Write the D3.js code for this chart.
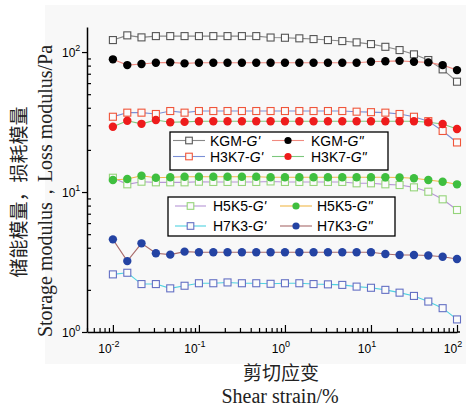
<!DOCTYPE html>
<html>
<head>
<meta charset="utf-8">
<script src="https://cdn.jsdelivr.net/npm/d3@7"></script>
<style>
  body { margin: 0; background: #fff; }
  svg { display: block; }
</style>
</head>
<body>
<script>
(function (d3) {
  'use strict';

// shear strain (%), 6 points per decade
const strain = [0.01, 0.0147, 0.0215, 0.0316, 0.0464, 0.0681, 0.1, 0.147, 0.215, 0.316, 0.464, 0.681,
  1, 1.47, 2.15, 3.16, 4.64, 6.81, 10, 14.7, 21.5, 31.6, 46.4, 68.1, 100];

const kgmGp = [121.8, 131.6, 127.3, 130, 130, 130, 130, 130, 130, 130, 130, 127, 126.5, 125.3, 123.8,
  121.8, 119.8, 117.3, 114, 109, 103.3, 96.3, 87.7, 75.2, 61.4];
const kgmGpp = [88.7, 80.7, 82.1, 83.9, 84.4, 83, 83.9, 83.9, 83.9, 83.9, 83.9, 83.9, 83.9, 83.9, 83.9,
  83.9, 83.9, 83.9, 85.3, 86, 86.5, 85.3, 84.4, 80.7, 74.3];
const h3k7Gp = [34.5, 36.9, 36.9, 36.1, 37.9, 36.9, 37.9, 37.9, 37.9, 37.9, 37.9, 37.9, 37.9, 37.9, 37.9,
  37.9, 37.9, 37.5, 37.2, 36.9, 36.1, 34.5, 32.1, 27.3, 22.6];
const h3k7Gpp = [29.3, 32.3, 30.7, 32.7, 31.5, 31.7, 32, 32, 32, 32, 32, 32, 32, 32, 32,
  32, 32, 32, 32, 32, 32, 32, 31.5, 30.6, 28.2];
const h5k5Gp = [12.65, 11.35, 11.85, 11.73, 11.73, 11.73, 11.85, 11.8, 11.8, 11.8, 11.8, 11.9, 11.8, 11.8, 11.8,
  11.8, 11.8, 11.54, 11.54, 11.35, 11.22, 10.8, 10.05, 8.87, 7.44];
const h5k5Gpp = [12.18, 12.4, 13.07, 12.65, 12.74, 12.86, 12.86, 12.86, 12.86, 12.86, 12.86, 12.74, 12.74, 12.74, 12.74,
  12.74, 12.74, 12.74, 12.74, 12.74, 12.7, 12.53, 12.18, 11.85, 11.35];
const h7k3Gp = [2.58, 2.65, 2.2, 2.2, 2.05, 2.14, 2.23, 2.23, 2.26, 2.23, 2.23, 2.21, 2.23, 2.23, 2.2,
  2.19, 2.17, 2.11, 2.07, 2.0, 1.91, 1.81, 1.65, 1.48, 1.23];
const h7k3Gpp = [4.59, 3.21, 4.3, 3.65, 3.57, 3.75, 3.71, 3.71, 3.71, 3.71, 3.71, 3.71, 3.71, 3.71, 3.71,
  3.71, 3.71, 3.71, 3.71, 3.61, 3.55, 3.55, 3.52, 3.45, 3.32];

const xMajor = [0.01, 0.1, 1, 10, 100];
const xMajorExp = ['-2', '-1', '0', '1', '2'];
const yMajor = [1, 10, 100];
const yMajorExp = ['0', '1', '2'];

const series = [
  {name: 'KGM', g: "'", values: kgmGp, shape: 'square', mark: '#555', line: '#888'},
  {name: 'KGM', g: '"', values: kgmGpp, shape: 'circle', mark: '#000', line: '#f08a80'},
  {name: 'H3K7', g: "'", values: h3k7Gp, shape: 'square', mark: '#f0553a', line: '#7a8fd6'},
  {name: 'H3K7', g: '"', values: h3k7Gpp, shape: 'circle', mark: '#ee1c1c', line: '#7cc77c'},
  {name: 'H5K5', g: "'", values: h5k5Gp, shape: 'square', mark: '#95d47a', line: '#b796d6'},
  {name: 'H5K5', g: '"', values: h5k5Gpp, shape: 'circle', mark: '#3fbf3f', line: '#f0b84a'},
  {name: 'H7K3', g: "'", values: h7k3Gp, shape: 'square', mark: '#6470c4', line: '#4fd2e0'},
  {name: 'H7K3', g: '"', values: h7k3Gpp, shape: 'circle', mark: '#2443a3', line: '#a86a6a'}
];

const W = 466, H = 409;
const svg = d3.select("body")
  .append("svg")
    .attr("width", W)
    .attr("height", H)
    .style("font-family", "'Liberation Sans', Arial, sans-serif");

// light backdrop behind the figure
svg.append("rect")
  .attr("x", 45).attr("y", 5)
  .attr("width", W - 45).attr("height", 359)
  .attr("fill", "#f8f8f8");

const x = d3.scaleLog().domain([0.005, 100]).range([87, 457]);
const y = d3.scaleLog().domain([1, 151]).range([332, 27]);

// minor ticks
const xMinor = [], yMinor = [];
[0.001, 0.01, 0.1, 1, 10].forEach(function (p) {
  for (let k = 2; k <= 9; k++) {
    const v = +(k * p).toPrecision(3);
    if (v >= 0.005 && v <= 100) xMinor.push(v);
  }
});
[1, 10, 100].forEach(function (p) {
  for (let k = 2; k <= 9; k++) {
    const v = k * p;
    if (v <= 151) yMinor.push(v);
  }
});

// x axis
const xaxis = svg.append("g")
  .attr("transform", `translate(0, ${y(1)})`)
  .call(d3.axisBottom(x).tickValues(xMajor).tickSizeInner(-7).tickSizeOuter(0).tickFormat(""));
svg.append("g")
  .attr("transform", `translate(0, ${y(1)})`)
  .call(d3.axisBottom(x).tickValues(xMinor).tickSizeInner(-4).tickSizeOuter(0).tickFormat(""))
  .select(".domain").remove();
svg.append("line")
  .attr("x1", x(100)).attr("x2", x(100) + 3)
  .attr("y1", y(1)).attr("y2", y(1))
  .attr("stroke", "#000").attr("stroke-width", 1.5);

// y axis
const yaxis = svg.append("g")
  .attr("transform", `translate(${x(0.005)}, 0)`)
  .call(d3.axisLeft(y).tickValues(yMajor).tickSizeInner(5).tickSizeOuter(0).tickFormat(""));
svg.append("g")
  .attr("transform", `translate(${x(0.005)}, 0)`)
  .call(d3.axisLeft(y).tickValues(yMinor).tickSizeInner(-4).tickSizeOuter(0).tickFormat(""))
  .select(".domain").remove();

svg.selectAll(".domain").attr("stroke-width", 1.5);
svg.selectAll(".tick line").attr("stroke-width", 1.2);

// power-of-ten tick labels
const xl = svg.append("g").selectAll("text")
  .data(xMajor)
  .enter().append("text")
    .attr("x", d => x(d) - 4)
    .attr("y", 353)
    .attr("text-anchor", "middle")
    .attr("font-size", 12);
xl.append("tspan").text("10");
xl.append("tspan").attr("dy", -6).attr("font-size", 9).text((d, i) => xMajorExp[i]);

const yl = svg.append("g").selectAll("text")
  .data(yMajor)
  .enter().append("text")
    .attr("x", 62)
    .attr("y", d => y(d) + 5)
    .attr("font-size", 12);
yl.append("tspan").text("10");
yl.append("tspan").attr("dy", -6).attr("font-size", 9).text((d, i) => yMajorExp[i]);

// series lines then markers
const line = d3.line()
  .x((d, i) => x(strain[i]))
  .y(d => y(d));

series.forEach(function (s) {
  svg.append("path")
    .datum(s.values)
    .attr("fill", "none")
    .attr("stroke", s.line)
    .attr("stroke-width", 1.1)
    .attr("d", line);
});

function drawMarker(g, s, cx, cy, small) {
  if (s.shape === 'circle') {
    g.append("circle")
      .attr("cx", cx).attr("cy", cy)
      .attr("r", small ? 3.6 : 4.2)
      .attr("fill", s.mark);
  } else {
    const h = small ? 3.3 : 3.5;
    g.append("rect")
      .attr("x", cx - h).attr("y", cy - h)
      .attr("width", 2 * h).attr("height", 2 * h)
      .attr("fill", "#fbfbfb")
      .attr("stroke", s.mark)
      .attr("stroke-width", 1.1);
  }
}

series.forEach(function (s) {
  const g = svg.append("g");
  s.values.forEach(function (v, i) {
    drawMarker(g, s, x(strain[i]), y(v), false);
  });
});

// legends
const legends = [
  {box: [170, 132, 218, 38], rows: [140.5, 156.5], cols: [[173, 205, 210], [272, 304, 311]], items: [0, 1, 2, 3]},
  {box: [168, 197, 227, 39], rows: [206, 226], cols: [[175, 206, 213], [280, 312, 317]], items: [4, 5, 6, 7]}
];

legends.forEach(function (lg) {
  const g = svg.append("g");
  g.append("rect")
    .attr("x", lg.box[0]).attr("y", lg.box[1])
    .attr("width", lg.box[2]).attr("height", lg.box[3])
    .attr("fill", "#fff")
    .attr("stroke", "#000")
    .attr("stroke-width", 1.3);
  lg.items.forEach(function (k, j) {
    const s = series[k];
    const c = lg.cols[j % 2];
    const ry = lg.rows[Math.floor(j / 2)];
    g.append("line")
      .attr("x1", c[0]).attr("x2", c[1])
      .attr("y1", ry).attr("y2", ry)
      .attr("stroke", s.line)
      .attr("stroke-width", 1.1);
    drawMarker(g, s, (c[0] + c[1]) / 2, ry, true);
    const t = g.append("text")
      .attr("x", c[2]).attr("y", ry + 5)
      .attr("font-size", 14);
    t.append("tspan").text(s.name + "-");
    t.append("tspan").attr("font-style", "italic").text("G" + s.g);
  });
});

// axis titles
svg.append("text")
  .attr("transform", "translate(26, 192) rotate(-90)")
  .attr("text-anchor", "middle")
  .attr("font-family", "'Noto Sans CJK SC', sans-serif")
  .attr("font-size", 19)
  .attr("fill", "#222")
  .text("储能模量，损耗模量");
svg.append("text")
  .attr("transform", "translate(52, 191) rotate(-90)")
  .attr("text-anchor", "middle")
  .attr("font-family", "'Liberation Serif', 'Times New Roman', serif")
  .attr("font-size", 20)
  .attr("fill", "#222")
  .text("Storage modulus，Loss modulus/Pa");

svg.append("text")
  .attr("x", 281).attr("y", 380)
  .attr("text-anchor", "middle")
  .attr("font-family", "'Noto Sans CJK SC', sans-serif")
  .attr("font-size", 19)
  .attr("fill", "#222")
  .text("剪切应变");
svg.append("text")
  .attr("x", 280).attr("y", 403)
  .attr("text-anchor", "middle")
  .attr("font-family", "'Liberation Serif', 'Times New Roman', serif")
  .attr("font-size", 20)
  .attr("fill", "#222")
  .text("Shear strain/%");

}(d3));
</script>
</body>
</html>
